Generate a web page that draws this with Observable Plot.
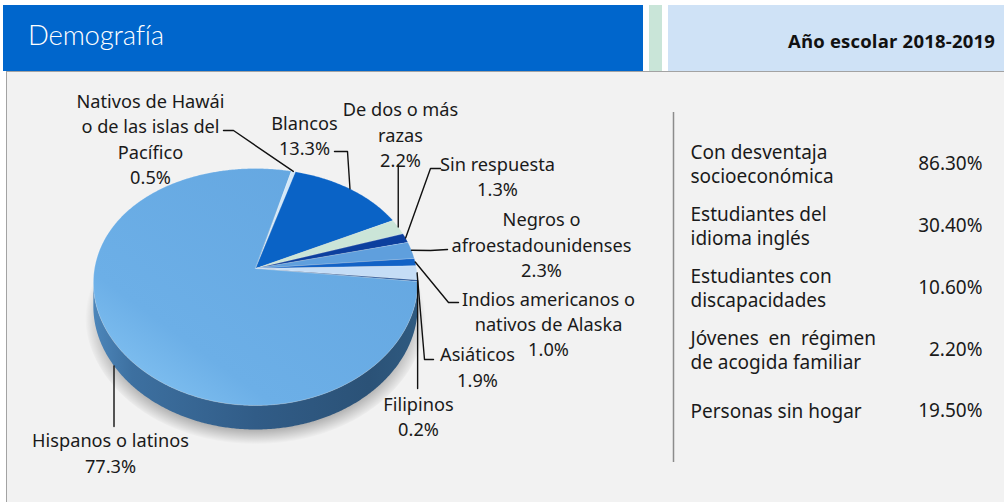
<!DOCTYPE html>
<html>
<head>
<meta charset="utf-8">
<script src="https://cdn.jsdelivr.net/npm/d3@7"></script>
<script src="https://cdn.jsdelivr.net/npm/@observablehq/plot@0.6"></script>
<style>
  html, body { margin: 0; padding: 0; background: #ffffff; }
  #page { position: relative; width: 1004px; height: 502px; overflow: hidden; }
  .box { position: absolute; top: 5px; height: 66px; }
  #blue { left: 3px; width: 640px; background: #0066cc; }
  #green { left: 649px; width: 13px; background: #c9e5d8; }
  #light { left: 668px; width: 336px; background: #cfe2f6; }
  #title { position: absolute; left: 25px; top: 13px; font-family: Lato, "Noto Sans", sans-serif; font-weight: 300; font-size: 27.5px; color: #ffffff; letter-spacing: -0.2px; }
  #year { position: absolute; right: 9px; top: 23px; font-family: "Open Sans", "Noto Sans", sans-serif; font-weight: 700; font-size: 18.5px; letter-spacing: 0.2px; color: #111; }
  #panel { position: absolute; left: 6px; top: 71px; width: 998px; height: 431px; background: #f2f2f2; border-top: 1.5px solid #a3a3a3; border-left: 1.5px solid #a3a3a3; box-sizing: border-box; }
  #chart { position: absolute; left: 0; top: 72px; }
</style>
</head>
<body>
<div id="page">
  <div class="box" id="blue"><div id="title">Demografía</div></div>
  <div class="box" id="green"></div>
  <div class="box" id="light"><div id="year">Año escolar 2018-2019</div></div>
  <div id="panel"></div>
  <div id="chart"></div>
</div>
<svg width="0" height="0" style="position:absolute">
  <defs>
    <linearGradient id="faceGrad" x1="0" y1="1" x2="1" y2="0">
      <stop offset="0" stop-color="#8ccaf6"/>
      <stop offset="0.28" stop-color="#6cafe7"/>
      <stop offset="1" stop-color="#63a5df"/>
    </linearGradient>
    <linearGradient id="sideGrad" x1="0" y1="0" x2="1" y2="0">
      <stop offset="0" stop-color="#4d86ba"/>
      <stop offset="0.12" stop-color="#3d70a0"/>
      <stop offset="0.5" stop-color="#315c87"/>
      <stop offset="0.85" stop-color="#2b5277"/>
      <stop offset="1" stop-color="#2f5a80"/>
    </linearGradient>
    <radialGradient id="shadowGrad" cx="0.5" cy="0.5" r="0.5">
      <stop offset="0.86" stop-color="#000" stop-opacity="0.32"/>
      <stop offset="1" stop-color="#000" stop-opacity="0"/>
    </radialGradient>
  </defs>
</svg>
<script>
// ---- data ----
const categories = ["Nativos de Hawái o de las islas del Pacífico", "Blancos", "De dos o más razas", "Sin respuesta", "Negros o afroestadounidenses", "Indios americanos o nativos de Alaska", "Asiáticos", "Filipinos", "Hispanos o latinos"];
const shares = [0.5, 13.3, 2.2, 1.3, 2.3, 1.0, 1.9, 0.2, 77.3];
const labelNames = ["Nativos de Hawái\no de las islas del\nPacífico", "Blancos", "De dos o más\nrazas", "Sin respuesta", "Negros o\nafroestadounidenses", "Indios americanos o\nnativos de Alaska", "Asiáticos", "Filipinos", "Hispanos o latinos"];
const sliceColors = ["#d3e8f8", "#0a63c6", "#cbe5d8", "#0c3f9e", "#5f9fdd", "#1262c6", "#c5ddf6", "#1d4f96", "url(#faceGrad)"];

const groups = ["Con desventaja\nsocioeconómica", "Estudiantes del\nidioma inglés", "Estudiantes con\ndiscapacidades", "Jóvenes\u00a0 en\u00a0 régimen\nde acogida familiar", "Personas sin hogar"];
const groupValues = [86.30, 30.40, 10.60, 2.20, 19.50];

// ---- layout ----
const CX = 255, RX = 161, CY = 286.5, RY = 118.5, BEND = 18.5, WIDEN = 0.12, DEPTH = 24;
const START = 14.5 * Math.PI / 180;
const labelCenters = [[150, 137.5], [304, 134], [400, 133], [497, 175], [541, 243], [548, 322.5], [477, 365.5], [418, 415], [110, 451.5]];
// leader elbows after the slice anchor (null x = same x as anchor)
const leaderElbows = [
  [[233, 130], [223, 130]],
  [[347, 151], [334, 151]],
  [[null, 164]],
  [[430, 168], [440, 168]],
  [[430, 250], [447, 249]],
  [[448, 302], [458, 302]],
  [[424, 359], [433, 359]],
  [[null, 388]],
  [[null, 426]]
];
const anchorOnSide = [false, false, false, false, false, false, false, false, true];
const rowY = [163, 225, 287, 349, 410];

function proj(theta, r) {
  const u = r * Math.sin(theta), v = -r * Math.cos(theta);
  return {x: CX + RX * u * (1 + WIDEN * v), y: CY + RY * v - BEND * (1 - v * v)};
}
function arcPts(a0, a1, dy = 0, r = 1) {
  const n = Math.max(2, Math.ceil(Math.abs(a1 - a0) / (Math.PI / 360)));
  const pts = [];
  for (let i = 0; i <= n; i++) {
    const p = proj(a0 + (a1 - a0) * i / n, r);
    pts.push({x: p.x, y: p.y + dy});
  }
  return pts;
}

const arcs = d3.pie().sort(null).value(d => d).startAngle(START).endAngle(START + 2 * Math.PI)(shares);

// silhouette angles (leftmost / rightmost screen points)
let thR = Math.PI / 2, thL = 3 * Math.PI / 2, bestR = -Infinity, bestL = Infinity;
for (let t = 0; t < 2 * Math.PI; t += Math.PI / 720) {
  const p = proj(t, 1);
  if (p.x > bestR) { bestR = p.x; thR = t; }
  if (p.x < bestL) { bestL = p.x; thL = t; }
}

// faces
const faces = arcs.map((a, i) => {
  const c = proj(0, 0);
  return {fill: sliceColors[i], pts: [{x: c.x, y: c.y}, ...arcPts(a.startAngle, a.endAngle)]};
});

// sides (front half only)
const sides = [];
arcs.forEach((a, i) => {
  for (const k of [-1, 0, 1]) {
    const lo = thR + 2 * Math.PI * k, hi = thL + 2 * Math.PI * k;
    const a0 = Math.max(a.startAngle, lo), a1 = Math.min(a.endAngle, hi);
    if (a1 > a0) {
      const top = arcPts(a0, a1), bottom = arcPts(a1, a0, DEPTH);
      const col = i === 8 ? "url(#sideGrad)" : d3.color(sliceColors[i]).darker(1.1).formatHex();
      sides.push({fill: col, pts: [...top, ...bottom]});
    }
  }
});

// shadow
const shadowPts = arcPts(0, 2 * Math.PI, DEPTH + 7, 1.05);

// leaders
const leaderPts = [];
arcs.forEach((a, i) => {
  const mid = (a.startAngle + a.endAngle) / 2;
  const p = proj(mid, 1);
  const anchor = {x: p.x, y: p.y + (anchorOnSide[i] ? DEPTH : 0)};
  leaderPts.push({key: i, x: anchor.x, y: anchor.y});
  leaderElbows[i].forEach(([ex, ey]) => leaderPts.push({key: i, x: ex == null ? anchor.x : ex, y: ey}));
});

const labels = labelNames.map((n, i) => ({
  x: labelCenters[i][0], y: labelCenters[i][1],
  text: n + "\n" + shares[i].toFixed(1) + "%"
}));

const rows = groups.map((g, i) => ({name: g, value: groupValues[i].toFixed(2) + "%", xl: 690, xr: 982, y: rowY[i]}));

const marks = [
  Plot.line(shadowPts, {x: "x", y: "y", fill: "url(#shadowGrad)", stroke: "none", curve: "linear-closed"}),
  ...sides.map(s => Plot.line(s.pts, {x: "x", y: "y", fill: s.fill, stroke: "none", curve: "linear-closed"})),
  ...faces.map(f => Plot.line(f.pts, {x: "x", y: "y", fill: f.fill, stroke: "#ffffff", strokeOpacity: 0.35, strokeWidth: 0.6, curve: "linear-closed"})),
  Plot.line(leaderPts, {x: "x", y: "y", z: "key", stroke: "#111", strokeWidth: 1.4}),
  Plot.text(labels, {x: "x", y: "y", text: "text", textAnchor: "middle", lineHeight: 1.38, fontSize: 18.2, fill: "#1a1a1a"}),
  Plot.ruleX([673], {y1: 112, y2: 462, stroke: "#8c8c8c", strokeWidth: 1.5}),
  Plot.text(rows, {x: "xl", y: "y", text: "name", textAnchor: "start", lineHeight: 1.25, fontSize: 19, fill: "#1a1a1a"}),
  Plot.text(rows, {x: "xr", y: "y", text: "value", textAnchor: "end", fontSize: 19, fill: "#1a1a1a"})
];

const svg = Plot.plot({
  width: 1004, height: 430,
  margin: 0,
  x: {domain: [0, 1004], range: [0, 1004], axis: null},
  y: {domain: [72, 502], range: [0, 430], axis: null},
  style: {background: "transparent", fontFamily: "'Noto Sans', sans-serif", overflow: "visible"},
  marks
});
document.getElementById("chart").appendChild(svg);
</script>
</body>
</html>
